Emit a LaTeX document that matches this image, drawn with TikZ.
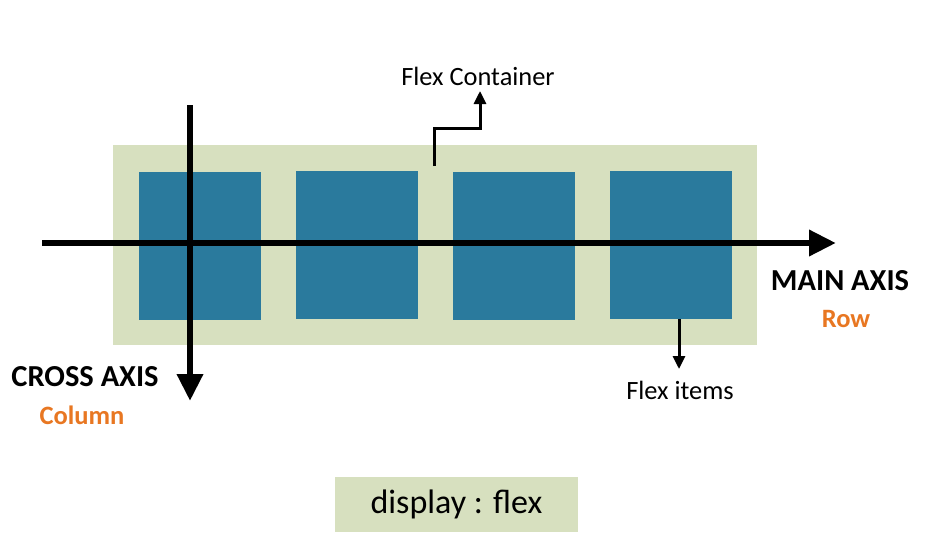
\documentclass[tikz,border=0pt]{standalone}
\usepackage{fontspec}
\setmainfont{Carlito}
\usetikzlibrary{arrows.meta}
\definecolor{boxgreen}{HTML}{D7E0BF}
\definecolor{itemblue}{HTML}{2A7A9D}
\definecolor{axisorange}{HTML}{E87722}
\tikzset{
  container/.style={fill=boxgreen,minimum width=644pt,minimum height=200pt,inner sep=0pt},
  flexitem/.style={fill=itemblue,minimum width=122pt,minimum height=148pt,inner sep=0pt},
  axisline/.style={line width=6.5pt,-{Triangle[width=25pt,length=27pt]}},
  pointer/.style={line width=3pt,-{Triangle[width=12pt,length=13pt]}},
  axislabel/.style={font=\fontsize{30.5}{34}\selectfont\bfseries},
  subtitle/.style={font=\fontsize{26.5}{30}\selectfont\bfseries,text=axisorange},
  caption/.style={font=\fontsize{26.4}{30}\selectfont}
}
\begin{document}
\begin{tikzpicture}[x=1pt,y=-1pt]
   \useasboundingbox (0,0) rectangle (926,539);
   % flex container and its items
   \node [container] (cont) at (435,245) {};
   \node [flexitem] (item1) at (200,245.5) {};
   \node [flexitem] (item2) at (357,245) {};
   \node [flexitem] (item3) at (514,245.5) {};
   \node [flexitem] (item4) at (670.5,245) {};
   % axes
   \coordinate (mainstart) at (42,243);
   \coordinate (mainend) at (836,243);
   \coordinate (crossstart) at (190,105);
   \coordinate (crossend) at (190,401);
   \draw [axisline] (mainstart) -- (mainend);
   \draw [axisline] (crossstart) -- (crossend);
   \node [axislabel] (mainlab) at (840,281) {MAIN AXIS};
   \node [subtitle] (rowlab) at (846,319) {Row};
   \node [axislabel] (crosslab) at (85,377) {CROSS AXIS};
   \node [subtitle] (collab) at (82,415) {Column};
   % pointers
   \node [caption,inner sep=0pt] (fclab) at (478,76) {Flex Container};
   \coordinate (fcstart) at (434,166);
   \coordinate (fcend) at (480,91);
   \draw [pointer] (fcstart) -- ++(0,-38) -| (fcend);
   \node [caption] (filab) at (680,390) {Flex items};
   \coordinate (fiend) at (679,369);
   \draw [pointer] (item4.south -| fiend) -- (fiend);
   % display box
   \node [fill=boxgreen,minimum width=243pt,minimum height=55pt,
          font=\fontsize{34}{38}\selectfont] (display) at (456.5,504.5) {display : flex};
  \end{tikzpicture}
\end{document}
